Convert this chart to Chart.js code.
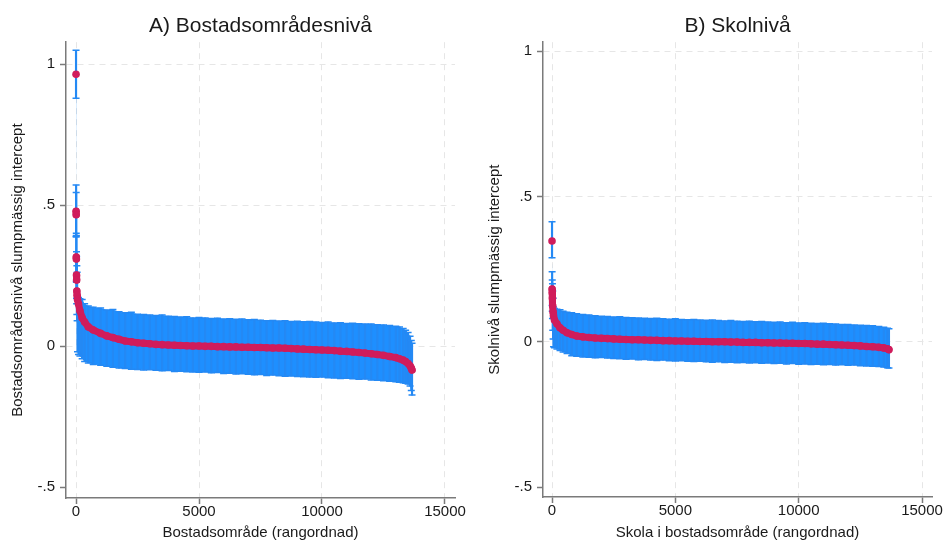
<!DOCTYPE html>
<html lang="sv">
<head>
<meta charset="UTF-8">
<title>Slumpmässiga intercept</title>
<script src="https://cdn.jsdelivr.net/npm/chart.js@4"></script>
<style>
    body { margin: 0; background: #fff; }
    .wrap { position: relative; width: 944px; height: 540px; }
    canvas { position: absolute; top: 0; }
    #chartA { left: 0; }
    #chartB { left: 472px; }
</style>
</head>
<body>
<div class="wrap">
    <canvas id="chartA" width="472" height="540"></canvas>
    <canvas id="chartB" width="472" height="540"></canvas>
</div>
<script>
// A) residential area level: rank, estimate, lower and upper CI bound
const rankA = [1, 4, 7, 11, 15, 20, 26, 34, 45, 60, 100, 160, 250, 350, 500, 700,
    1000, 1250, 1500, 1750, 2000, 2250, 2500, 2750, 3000, 3250, 3500, 3750, 4000, 4250, 4500, 4750,
    5000, 5250, 5500, 5750, 6000, 6250, 6500, 6750, 7000, 7250, 7500, 7750, 8000, 8250, 8500, 8750,
    9000, 9250, 9500, 9750, 10000, 10250, 10500, 10750, 11000, 11250, 11500, 11750, 12000, 12250, 12500, 12750,
    13000, 13150, 13300, 13400, 13500, 13580, 13630, 13660];
const estA = [0.964, 0.478, 0.466, 0.316, 0.309, 0.252, 0.234, 0.195, 0.180, 0.165, 0.150, 0.125, 0.100, 0.085, 0.068, 0.057,
    0.045, 0.036, 0.030, 0.024, 0.018, 0.015, 0.012, 0.010, 0.008, 0.006, 0.005, 0.004, 0.003, 0.002, 0.001, 0.000,
    0.000, -0.001, -0.001, -0.002, -0.002, -0.003, -0.003, -0.004, -0.004, -0.005, -0.005, -0.006, -0.007, -0.007, -0.008, -0.009,
    -0.010, -0.011, -0.012, -0.013, -0.014, -0.015, -0.016, -0.018, -0.019, -0.021, -0.023, -0.025, -0.027, -0.030, -0.033, -0.037,
    -0.041, -0.045, -0.050, -0.055, -0.062, -0.070, -0.078, -0.085];
const loA = [0.879, 0.390, 0.387, 0.230, 0.226, 0.170, 0.150, 0.112, 0.090, -0.020, -0.030, -0.035, -0.045, -0.055, -0.060, -0.065,
    -0.068, -0.072, -0.075, -0.078, -0.080, -0.082, -0.083, -0.085, -0.084, -0.086, -0.088, -0.087, -0.090, -0.089, -0.091, -0.092,
    -0.093, -0.092, -0.095, -0.094, -0.097, -0.096, -0.099, -0.098, -0.100, -0.102, -0.101, -0.104, -0.103, -0.105, -0.107, -0.106,
    -0.108, -0.109, -0.110, -0.111, -0.110, -0.112, -0.113, -0.115, -0.114, -0.116, -0.118, -0.117, -0.120, -0.121, -0.123, -0.125,
    -0.127, -0.128, -0.130, -0.132, -0.135, -0.142, -0.158, -0.174];
const hiA = [1.049, 0.571, 0.545, 0.400, 0.392, 0.335, 0.318, 0.285, 0.262, 0.170, 0.172, 0.168, 0.165, 0.150, 0.142, 0.138,
    0.135, 0.128, 0.130, 0.122, 0.118, 0.120, 0.113, 0.112, 0.110, 0.108, 0.110, 0.106, 0.105, 0.103, 0.104, 0.100,
    0.101, 0.100, 0.098, 0.099, 0.096, 0.097, 0.095, 0.096, 0.093, 0.094, 0.092, 0.090, 0.091, 0.089, 0.090, 0.087,
    0.088, 0.086, 0.087, 0.085, 0.084, 0.085, 0.082, 0.083, 0.080, 0.081, 0.079, 0.078, 0.078, 0.076, 0.075, 0.073,
    0.070, 0.068, 0.062, 0.056, 0.048, 0.035, 0.020, 0.010];

// B) school level
const rankB = [1, 5, 10, 18, 30, 45, 60, 100, 200, 325, 450, 610, 800,
    1000, 1250, 1500, 1750, 2000, 2250, 2500, 2750, 3000, 3250, 3500, 3750, 4000, 4250, 4500, 4750,
    5000, 5250, 5500, 5750, 6000, 6250, 6500, 6750, 7000, 7250, 7500, 7750, 8000, 8250, 8500, 8750,
    9000, 9250, 9500, 9750, 10000, 10250, 10500, 10750, 11000, 11250, 11500, 11750, 12000, 12250, 12500, 12750,
    13000, 13250, 13450, 13600, 13660];
const estB = [0.347, 0.182, 0.169, 0.151, 0.124, 0.103, 0.090, 0.075, 0.062, 0.048, 0.040, 0.031, 0.025,
    0.020, 0.017, 0.015, 0.013, 0.012, 0.011, 0.010, 0.009, 0.008, 0.007, 0.007, 0.006, 0.005, 0.005, 0.004, 0.004,
    0.003, 0.003, 0.002, 0.002, 0.001, 0.001, 0.000, 0.000, 0.000, -0.001, -0.001, -0.002, -0.002, -0.002, -0.003, -0.003,
    -0.004, -0.004, -0.005, -0.005, -0.006, -0.006, -0.007, -0.008, -0.008, -0.009, -0.010, -0.011, -0.012, -0.013, -0.014, -0.016,
    -0.017, -0.019, -0.021, -0.024, -0.027];
const loB = [0.289, 0.125, 0.105, 0.080, 0.040, 0.010, -0.017, -0.020, -0.025, -0.030, -0.035, -0.040, -0.048,
    -0.050, -0.052, -0.053, -0.055, -0.054, -0.056, -0.057, -0.058, -0.060, -0.059, -0.062, -0.061, -0.063, -0.064, -0.063, -0.065,
    -0.066, -0.065, -0.067, -0.068, -0.067, -0.069, -0.070, -0.069, -0.071, -0.070, -0.072, -0.071, -0.073, -0.072, -0.074, -0.073,
    -0.075, -0.074, -0.076, -0.075, -0.077, -0.076, -0.078, -0.077, -0.079, -0.078, -0.080, -0.079, -0.081, -0.080, -0.082, -0.083,
    -0.084, -0.085, -0.087, -0.089, -0.090];
const hiB = [0.413, 0.241, 0.213, 0.200, 0.175, 0.150, 0.120, 0.115, 0.112, 0.110, 0.105, 0.102, 0.100,
    0.097, 0.094, 0.092, 0.090, 0.088, 0.087, 0.085, 0.086, 0.084, 0.083, 0.082, 0.081, 0.080, 0.081, 0.079, 0.078,
    0.079, 0.077, 0.076, 0.077, 0.075, 0.074, 0.075, 0.073, 0.072, 0.073, 0.071, 0.070, 0.071, 0.069, 0.070, 0.068,
    0.067, 0.068, 0.066, 0.067, 0.065, 0.066, 0.064, 0.063, 0.064, 0.062, 0.061, 0.060, 0.060, 0.058, 0.057, 0.056,
    0.055, 0.053, 0.050, 0.047, 0.045];

const yTicks = [-0.5, 0, 0.5, 1];
const xTicks = [0, 5000, 10000, 15000];

const BAND = '#1e8fff';
const WHISKER = '#2489f4';
const RED = '#d01c5b';
const AXIS = '#7a7a7a';
const GRID = '#e6e6e6';

Chart.defaults.font.family = "'Liberation Sans', Arial, sans-serif";
Chart.defaults.color = '#1a1a1a';

function fmtY(v) {
    if (v === 0) return '0';
    return (v < 0 ? '-' : '') + String(Math.abs(v)).replace(/^0/, '');
}

function renderPanel(id, p) {
    const pts = ys => p.rank.map((r, i) => ({ x: r, y: ys[i] }));
    const caps = p.rank.flatMap((r, i) => [{ x: r, y: p.lo[i] }, { x: r, y: p.hi[i] }]);
    const bars = p.rank.map((r, i) => ({ x: r, y: [p.lo[i], p.hi[i]] }));

    const gridColor = ctx => (ctx.tick && ctx.tick.value === -0.5) ? 'rgba(0,0,0,0)' : GRID;

    new Chart(document.getElementById(id), {
        type: 'scatter',
        data: {
            datasets: [
                { type: 'line', data: pts(p.lo), borderWidth: 0, pointRadius: 0, fill: false, order: 5 },
                { type: 'line', data: pts(p.hi), borderWidth: 0, pointRadius: 0, fill: '-1', backgroundColor: BAND, order: 4 },
                { type: 'bar', data: bars, backgroundColor: WHISKER, barThickness: 1.5, borderWidth: 0, order: 3 },
                { type: 'scatter', data: caps, pointStyle: 'line', pointRadius: 3.5, borderColor: WHISKER, borderWidth: 1.5, order: 2 },
                {
                    type: 'line', data: pts(p.est), borderColor: RED, backgroundColor: RED,
                    borderWidth: 7, borderCapStyle: 'round', pointRadius: 3.8, pointBorderWidth: 0, order: 1,
                    segment: {
                        // separate points far apart vertically stay unconnected
                        borderColor: ctx => Math.abs(ctx.p0.parsed.y - ctx.p1.parsed.y) > 0.03 ? 'rgba(0,0,0,0)' : RED
                    }
                }
            ]
        },
        options: {
            responsive: false,
            animation: false,
            devicePixelRatio: 1,
            layout: { padding: { left: 0, right: p.padRight, top: 0, bottom: 0 } },
            plugins: {
                legend: { display: false },
                tooltip: { enabled: false },
                title: {
                    display: true, text: p.title, fullSize: false, color: '#1a1a1a',
                    font: { size: 21, weight: 'normal' }, padding: { top: 14, bottom: 3 }
                }
            },
            scales: {
                x: {
                    type: 'linear', min: p.xMin, max: p.xMax, offset: false,
                    afterBuildTicks: s => { s.ticks = xTicks.map(v => ({ value: v })); },
                    afterFit: s => { s.height = p.xAxisH; },
                    ticks: { callback: v => String(v), font: { size: 15, lineHeight: 1 }, padding: 0, maxRotation: 0, autoSkip: false },
                    grid: { color: gridColor, offset: false, tickColor: AXIS, tickLength: 6, tickWidth: 1.5, lineWidth: 1 },
                    border: { color: AXIS, width: 1.5, dash: [6, 5] },
                    title: { display: true, text: p.xTitle, font: { size: 15, lineHeight: 1 }, padding: { top: 0, bottom: 0 } }
                },
                y: {
                    type: 'linear', min: p.yMin, max: p.yMax,
                    afterBuildTicks: s => { s.ticks = yTicks.map(v => ({ value: v })); },
                    afterFit: s => { s.width = p.yAxisW; },
                    ticks: { callback: fmtY, font: { size: 15 }, padding: 5 },
                    grid: { color: gridColor, tickColor: AXIS, tickLength: 6, tickWidth: 1.5, lineWidth: 1 },
                    border: { color: AXIS, width: 1.5, dash: [6, 5] },
                    title: { display: true, text: p.yTitle, font: { size: 15, lineHeight: 1.2 }, padding: { top: p.yTitlePad, bottom: 0 } }
                }
            }
        }
    });
}

renderPanel('chartA', {
    rank: rankA, est: estA, lo: loA, hi: hiA,
    title: 'A) Bostadsområdesnivå',
    xTitle: 'Bostadsområde (rangordnad)',
    yTitle: 'Bostadsområdesnivå slumpmässig intercept',
    xMin: -407, xMax: 15407, yMin: -0.539, yMax: 1.078,
    yAxisW: 66, xAxisH: 42, padRight: 17, yTitlePad: 9
});

renderPanel('chartB', {
    rank: rankB, est: estB, lo: loB, hi: hiB,
    title: 'B) Skolnivå',
    xTitle: 'Skola i bostadsområde (rangordnad)',
    yTitle: 'Skolnivå slumpmässig intercept',
    xMin: -365, xMax: 15405, yMin: -0.534, yMax: 1.031,
    yAxisW: 71, xAxisH: 43, padRight: 12, yTitlePad: 14
});
</script>
</body>
</html>
